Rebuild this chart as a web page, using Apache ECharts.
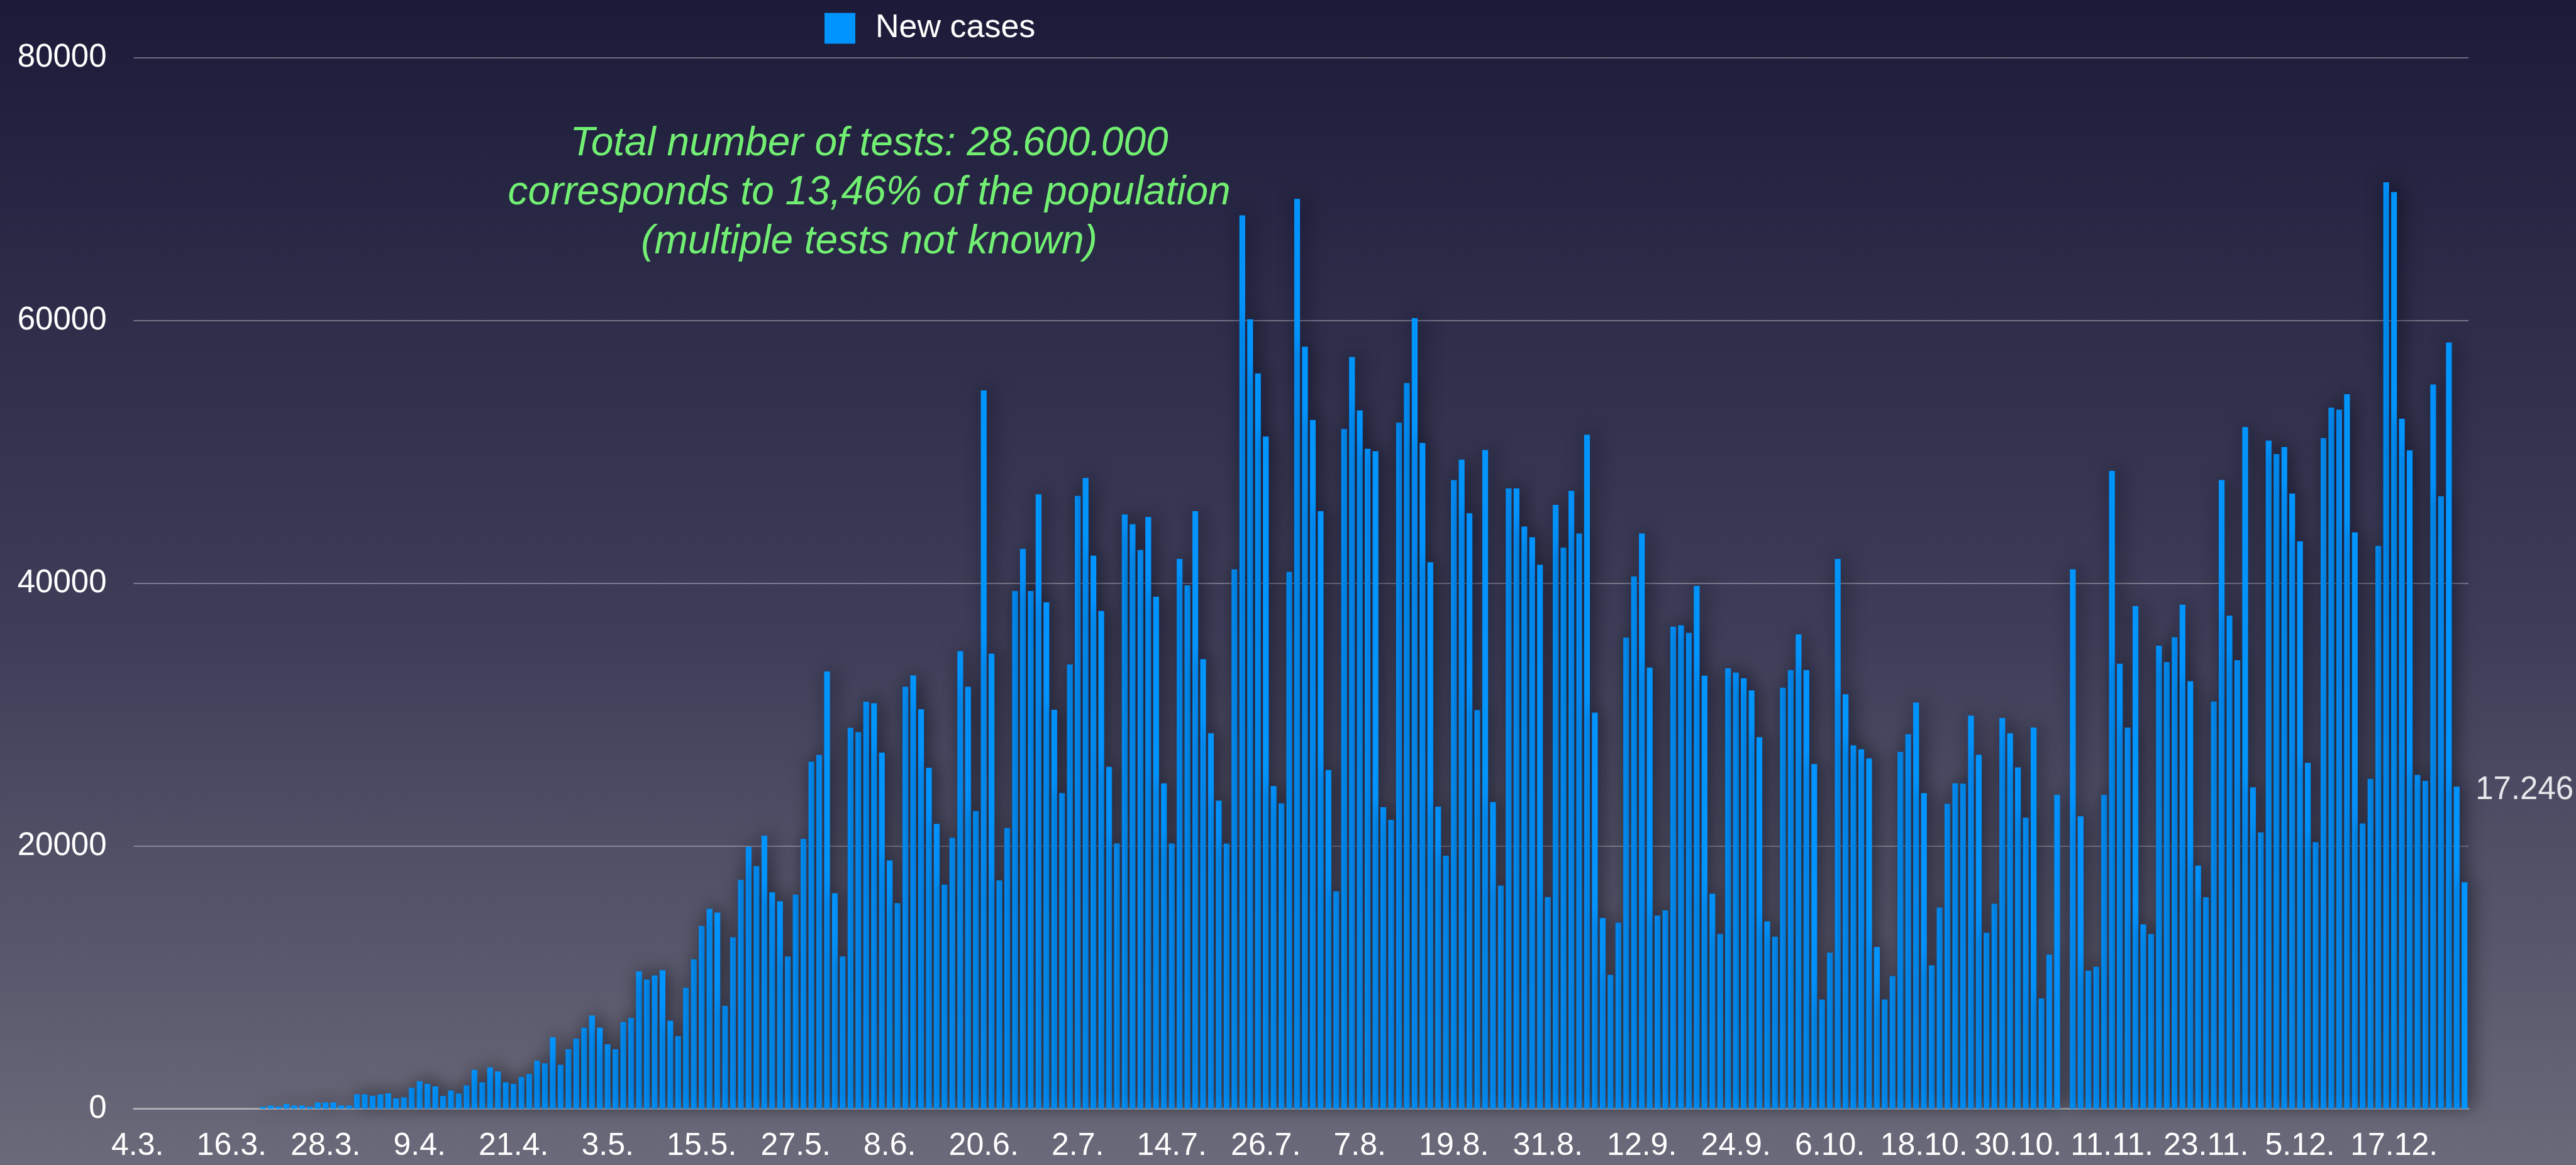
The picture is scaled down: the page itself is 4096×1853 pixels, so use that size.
<!DOCTYPE html>
<html>
<head>
<meta charset="utf-8">
<script src="https://cdn.jsdelivr.net/npm/echarts@6/dist/echarts.min.js"></script>
<style>
  html, body { margin:0; padding:0; width:4096px; height:1853px; overflow:hidden; }
  body { background: linear-gradient(to bottom, #1b1b39 0%, #2c2c49 25%, #3e3e59 55%, #56566b 80%, #6a6a7a 100%); }
  #chart { width:4096px; height:1853px; }
</style>
</head>
<body>
<div id="chart"></div>
<script>
// ---- data ----
const startDay = { year: 2020, month: 3, day: 4 };   // first category: 4.3.
const seriesName = 'New cases';
// daily new cases, one value per day from 4.3. to 26.12.
const newCases = [
  0,0,0,0,0,0,0,0,0,0,
  0,0,0,0,0,0,150,250,170,360,
  250,250,170,480,480,480,250,250,1100,1100,
  990,1100,1180,790,870,1600,2100,1900,1700,970,
  1390,1160,1780,2960,2010,3150,2840,2010,1900,2420,
  2650,3660,3460,5450,3350,4530,5340,6170,7100,6170,
  4910,4530,6600,6910,10460,9830,10150,10540,6700,5530,
  9210,11380,13910,15220,14930,7840,13050,17420,19950,18470,
  20780,16480,15790,11600,16300,20540,26420,26930,33290,16400,
  11600,28990,28670,30980,30870,27110,18900,15650,32130,32990,
  30420,25950,21680,17060,20630,34830,32130,22660,54680,34640,
  17380,21370,39410,42620,39410,46770,38550,30370,24030,33820,
  46650,48020,42110,37890,26030,20200,45240,44500,42540,45050,
  38980,24770,20200,41850,39850,45490,34220,28590,23450,20190,
  41070,68010,60100,55970,51170,24560,23250,40870,69270,58010,
  52430,45490,25780,16550,51750,57230,53160,50240,50050,22960,
  21990,52230,55240,60190,50680,41600,23000,19270,47860,49420,
  45340,30340,50150,23350,16990,47230,47230,44320,43500,41410,
  16120,45970,42720,47040,43790,51310,30150,14510,10190,14170,
  35870,40530,43790,33590,14710,15100,36700,36800,36230,39800,
  32970,16370,13300,33530,33200,32770,31850,28280,14260,13100,
  32050,33400,36110,33400,26240,8320,11880,41850,31550,27660,
  27360,26670,12310,8320,10100,27160,28510,30920,24030,10920,
  15310,23210,24770,24750,29930,26950,13400,15600,29750,28580,
  25990,22160,29010,8400,11740,23900,0,41060,22270,10500,
  10820,23900,48550,33870,29010,38260,14040,13300,35250,34010,
  35890,38370,32550,18510,16110,31000,47860,37540,34150,51890,
  24470,21030,50860,49830,50370,46830,43190,26340,20290,51060,
  53370,53220,54400,43880,21720,25110,42850,70520,69780,52530,
  50120,25410,24960,55140,46630,58330,24520,17246
];
const yTicks = [0, 20000, 40000, 60000, 80000];
const xLabelEvery = 12;   // a date label every 12 days
const lastValueLabel = '17.246';
const noteLines = [
  'Total number of tests: 28.600.000',
  'corresponds to 13,46% of the population',
  '(multiple tests not known)'
];

// category labels "d.m."
const dates = [];
for (let i = 0; i < newCases.length; i++) {
  const d = new Date(Date.UTC(startDay.year, startDay.month - 1, startDay.day + i));
  dates.push(d.getUTCDate() + '.' + (d.getUTCMonth() + 1) + '.');
}

const FONT = '"Liberation Sans", Arial, Helvetica, sans-serif';
const seriesData = newCases.map((v, i) => {
  if (i === newCases.length - 1) {
    return {
      value: v,
      label: {
        show: true, formatter: lastValueLabel, position: [22, -146],
        align: 'left', verticalAlign: 'middle',
        color: '#e6e6ea', fontSize: 51, fontFamily: FONT
      }
    };
  }
  return v;
});

const chart = echarts.init(document.getElementById('chart'), null, { renderer: 'canvas' });
chart.setOption({
  backgroundColor: 'transparent',
  animation: false,
  grid: { left: 212.5, right: 171, top: 92, bottom: 89.5, containLabel: false },
  legend: {
    data: [seriesName],
    left: 1306, top: 14,
    icon: 'rect', itemWidth: 49, itemHeight: 49,
    textStyle: { color: '#ffffff', fontSize: 52, fontFamily: FONT, padding: [0, 0, 0, 27] }
  },
  xAxis: {
    type: 'category',
    data: dates,
    boundaryGap: true,
    axisLine: { show: true, lineStyle: { color: '#b4b4b8', width: 2.5 } },
    axisTick: { show: false },
    splitLine: { show: false },
    axisLabel: { interval: xLabelEvery - 1, color: '#ffffff', fontSize: 50, fontFamily: FONT, margin: 35 }
  },
  yAxis: {
    type: 'value',
    min: yTicks[0], max: yTicks[yTicks.length - 1], interval: yTicks[1] - yTicks[0],
    axisLine: { show: false },
    axisTick: { show: false },
    splitLine: { show: true, lineStyle: { color: 'rgba(205,205,215,0.6)', width: 1.5 } },
    axisLabel: { color: '#ffffff', fontSize: 51, fontFamily: FONT, margin: 43, formatter: v => String(v) }
  },
  series: [{
    name: seriesName,
    type: 'bar',
    data: seriesData,
    barCategoryGap: '26%',
    itemStyle: {
      color: '#0094ff',
      shadowBlur: 30, shadowColor: 'rgba(10,10,24,0.75)', shadowOffsetX: 6, shadowOffsetY: -2
    }
  }],
  graphic: [{
    type: 'text',
    x: 1382, y: 190,
    z: 100,
    style: {
      text: noteLines.join('\n'),
      fill: '#72ef72',
      fontSize: 64, fontStyle: 'italic', fontFamily: FONT,
      align: 'center', textAlign: 'center', verticalAlign: 'top',
      lineHeight: 78
    }
  }]
});
</script>
</body>
</html>
